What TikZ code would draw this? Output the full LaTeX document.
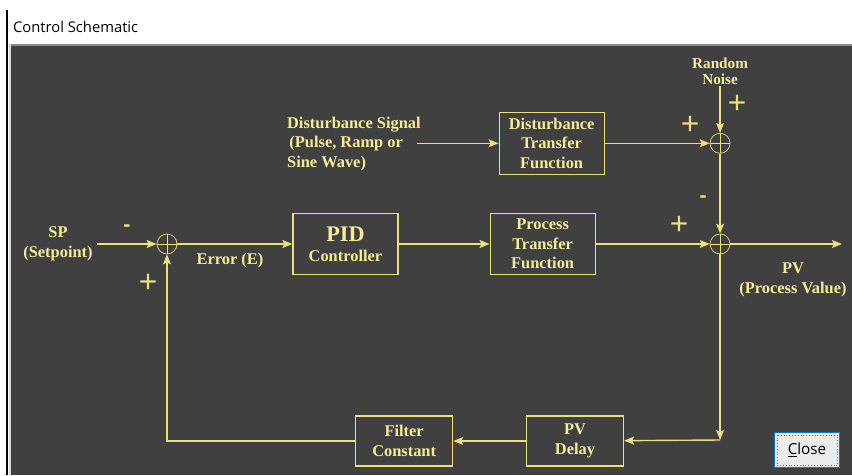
\documentclass[tikz,border=0pt]{standalone}
\usepackage{fontspec}
\setmainfont{Liberation Serif}
\newfontfamily\uifont{Open Sans}
\newfontfamily\signfont{Liberation Sans}
\usepackage{xcolor}
\usepackage{tikz}
\usetikzlibrary{positioning,calc,arrows.meta}

\definecolor{panelgray}{RGB}{64,64,64}
\definecolor{lineyellow}{RGB}{236,224,122}
\definecolor{textyellow}{RGB}{244,236,150}
\definecolor{btnblue}{RGB}{0,120,215}

\begin{document}
\begin{tikzpicture}[
    x=0.03cm, y=-0.03cm,
    every node/.style={font=\bfseries\fontsize{14}{16.8}\selectfont, text=textyellow},
    block/.style={rectangle, draw=lineyellow, line width=1pt, minimum width=3.15cm, minimum height=1.83cm, align=center, inner sep=1pt},
    smallblock/.style={block, minimum width=2.91cm, minimum height=1.5cm},
    sumpt/.style={circle, draw=lineyellow, line width=0.6pt, minimum size=0.6cm, inner sep=0pt,
        path picture={\draw[lineyellow, line width=0.6pt] (path picture bounding box.north) -- (path picture bounding box.south)
            (path picture bounding box.west) -- (path picture bounding box.east);}},
    plus/.style={font=\signfont\fontsize{27}{27}\selectfont, text=lineyellow},
    minus/.style={font=\signfont\bfseries\fontsize{18}{18}\selectfont, text=lineyellow},
    arrow/.style={-{Stealth[length=3mm,width=2.4mm,inset=0.6mm]}, draw=lineyellow, line width=1.2pt},
    btn/.style={rectangle, draw=btnblue, fill=black!8, line width=1.2pt, minimum width=1.95cm, minimum height=1.05cm,
        font=\uifont\fontsize{13}{15}\selectfont, text=black}
]

% Window frame
\fill[white] (0,0) rectangle (852,475);
\useasboundingbox (0,0) rectangle (852,475);
\draw[black, line width=1.2pt] (7,10) -- (7,475);
\fill[black!15] (8.5,44) rectangle (11,475);
\fill[black!45] (11,44) rectangle (852,46);
\fill[panelgray] (11,46) rectangle (852,475);
\node[anchor=west, font=\uifont\fontsize{12.6}{15}\selectfont, text=black] (title) at (9,27) {Control Schematic};

% Main loop
\node[sumpt] (sum1) at (167,244) {};
\node[align=center, font=\bfseries\fontsize{14}{17.5}\selectfont] (sp) at (58,244) {SP\\(Setpoint)};
\node[block, right=3.45cm of sum1] (pid) {{\fontsize{19}{21}\selectfont PID}\\Controller};
\node[block, right=2.73cm of pid] (process) {Process\\Transfer\\Function};
\node[sumpt, right=3.42cm of process] (sum3) {};
\coordinate (pvout) at (842,244);
\node[align=center] (pvlabel) at (793,280) {PV\\(Process Value)};
\node (error) at (230,261) {Error (E)};

% Disturbance branch
\node[sumpt, above=2.4cm of sum3] (sum2) {};
\node[block, minimum height=1.86cm, left=3.15cm of sum2] (dist) {Disturbance\\Transfer\\Function};
\coordinate[left=2.46cm of dist.west] (dsrc);
\node[align=left, anchor=west] (dsig) at (283,144) {Disturbance Signal\\\hspace{2pt}(Pulse, Ramp or\\Sine Wave)};
\node[above=1.41cm of sum2, align=center, inner sep=1pt, font=\bfseries\fontsize{13}{13.8}\selectfont] (noise) {Random\\Noise};

% Feedback path
\coordinate (corner) at (sum3 |- 0,440);
\node[smallblock] (pvdelay) at (575,441) {PV\\Delay};
\node[smallblock, left=2.18cm of pvdelay] (filter) {Filter\\Constant};

% Signs
\node[minus] (m1) at (127,228) {-};
\node[plus] (p1) at (148,283) {+};
\node[plus] (p2) at (690,125) {+};
\node[plus] (p3) at (737,104) {+};
\node[minus] (m2) at (703,199) {-};
\node[plus] (p4) at (679,225) {+};

% Arrows
\draw[arrow] (sp) -- (sum1);
\draw[arrow] (sum1) -- (pid);
\draw[arrow] (pid) -- (process);
\draw[arrow] (process) -- (sum3);
\draw[arrow] (sum3) -- (pvout);
\draw[arrow] (dsrc) -- (dist);
\draw[arrow] (dist) -- (sum2);
\draw[arrow] (noise) -- (sum2);
\draw[arrow] (sum2) -- (sum3);
\draw[arrow] (sum3) -- (corner);
\draw[arrow] (corner) -- (pvdelay);
\draw[arrow] (pvdelay) -- (filter);
\draw[arrow] (filter) -| (sum1);

% Close button
\node[btn] (close) at (807,450) {\underline{C}lose};
\draw[black!55, dotted] ([shift={(3,3)}]close.north west) rectangle ([shift={(-3,-3)}]close.south east);

\end{tikzpicture}
\end{document}
